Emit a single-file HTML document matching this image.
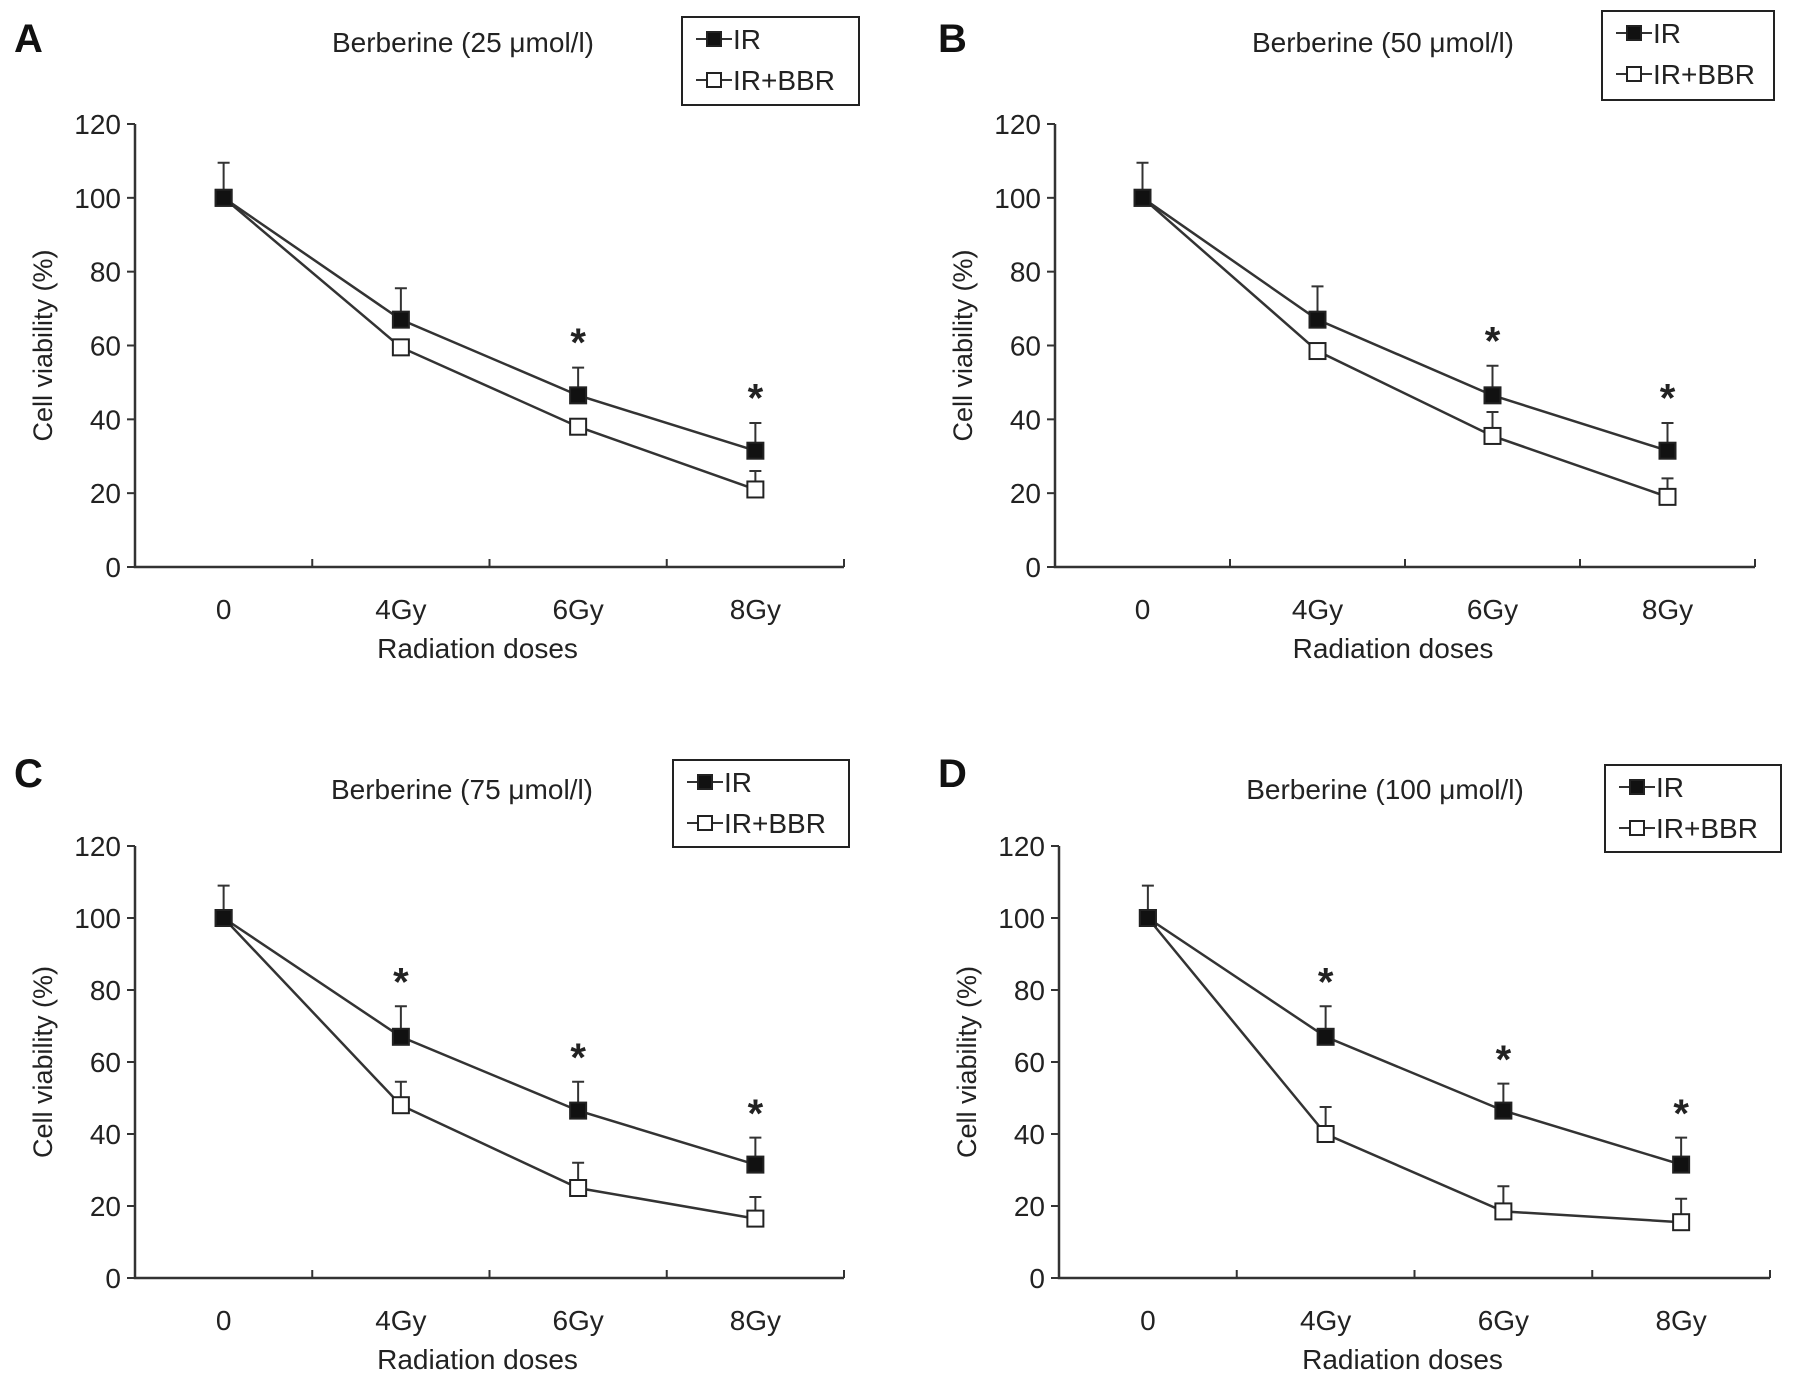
<!DOCTYPE html>
<html><head><meta charset="utf-8"><style>
html,body{margin:0;padding:0;background:#fff;}
svg{display:block;font-family:"Liberation Sans",Arial,sans-serif;}
</style></head><body>
<svg id="fig" width="1795" height="1385" viewBox="0 0 1795 1385" xmlns="http://www.w3.org/2000/svg"></svg>
<script>
const categories = ["0","4Gy","6Gy","8Gy"];
const yTicks = [0,20,40,60,80,100,120];
const panelLetters = ["A","B","C","D"];
const panelTitles = ["Berberine (25  μmol/l)","Berberine (50  μmol/l)","Berberine (75  μmol/l)","Berberine (100 μmol/l)"];
const irA = [100,67,46.5,31.5];
const irErrA = [9.5,8.5,7.5,7.5];
const bbrA = [100,59.5,38,21];
const bbrErrA = [0,0,0,5];
const starsA = [false,false,true,true];
const irB = [100,67,46.5,31.5];
const irErrB = [9.5,9,8,7.5];
const bbrB = [100,58.5,35.5,19];
const bbrErrB = [0,0,6.5,5];
const starsB = [false,false,true,true];
const irC = [100,67,46.5,31.5];
const irErrC = [9,8.5,8,7.5];
const bbrC = [100,48,25,16.5];
const bbrErrC = [0,6.5,7,6];
const starsC = [false,true,true,true];
const irD = [100,67,46.5,31.5];
const irErrD = [9,8.5,7.5,7.5];
const bbrD = [100,40,18.5,15.5];
const bbrErrD = [0,7.5,7,6.5];
const starsD = [false,true,true,true];

const svg = document.getElementById('fig');
const NS = "http://www.w3.org/2000/svg";
function mk(tag, attrs, parent){const e=document.createElementNS(NS,tag);for(const k in attrs)e.setAttribute(k,attrs[k]);(parent||svg).appendChild(e);return e;}

const layouts = [
 {x0:135,x1:844,yTop:124,yBot:567,title:[463,42],leg:[682,17,177,88],letter:[14,52]},
 {x0:1055,x1:1755,yTop:124,yBot:567,title:[1383,42],leg:[1602,11,172,89],letter:[938,52]},
 {x0:135,x1:844,yTop:846,yBot:1278,title:[462,789],leg:[673,760,176,87],letter:[14,787]},
 {x0:1059,x1:1770,yTop:846,yBot:1278,title:[1385,789],leg:[1605,765,176,87],letter:[938,787]}
];
const data = [
 [irA,irErrA,bbrA,bbrErrA,starsA],
 [irB,irErrB,bbrB,bbrErrB,starsB],
 [irC,irErrC,bbrC,bbrErrC,starsC],
 [irD,irErrD,bbrD,bbrErrD,starsD]
];

layouts.forEach((L,p)=>{
  const g = mk('g',{});
  
  
  const band=(L.x1-L.x0)/categories.length;
  const xs=i=>L.x0+band*(i+0.5);
  const ys=v=>L.yBot-(v/120)*(L.yBot-L.yTop);
  const t=(txt,x,y,size,anchor,name,extra)=>{const e=mk('text',Object.assign({x:x,y:y,'font-size':size,'text-anchor':anchor||'middle',fill:'#222'},extra||{}),g);e.textContent=txt;return e;};
  t(panelLetters[p],L.letter[0],L.letter[1],40,'start','panel-letter',{'font-weight':'bold',fill:'#111'});
  t(panelTitles[p],L.title[0],L.title[1]+10,28,'middle','chart-title');
  const ax=mk('path',{d:`M${L.x0},${L.yTop} V${L.yBot} H${L.x1}`,fill:'none',stroke:'#333','stroke-width':2.5},g);
  
  yTicks.forEach(v=>{
    const tk=mk('line',{x1:L.x0-8,x2:L.x0,y1:ys(v),y2:ys(v),stroke:'#333','stroke-width':2},g);
    
    t(String(v),L.x0-14,ys(v)+10,28,'end','y-tick-label');
  });
  for(let i=1;i<=categories.length;i++){
    const x=L.x0+band*i;
    const tk=mk('line',{x1:x,x2:x,y1:L.yBot-8,y2:L.yBot,stroke:'#333','stroke-width':2},g);
    
  }
  categories.forEach((c,i)=>t(c,xs(i),L.yBot+52,28,'middle','x-tick-label'));
  t('Radiation doses',(L.x0+L.x1)/2-12,L.yBot+91,28,'middle','x-axis-title');
  const yc=(L.yTop+L.yBot)/2;
  t('Cell viability (%)',L.x0-83,yc,27,'middle','y-axis-title',{transform:`rotate(-90 ${L.x0-83} ${yc})`});
  const [ir,irE,bb,bbE,st]=data[p];
  const series=[[bb,bbE,'#fff','ir-bbr'],[ir,irE,'#111','ir']];
  series.forEach(([vals,errs,fill,nm])=>{
    errs.forEach((e,i)=>{if(e>0){
      const eb=mk('path',{d:`M${xs(i)},${ys(vals[i])} V${ys(vals[i]+e)} M${xs(i)-6},${ys(vals[i]+e)} H${xs(i)+6}`,stroke:'#333','stroke-width':2,fill:'none'},g);
      }});
    const ln=mk('polyline',{points:vals.map((v,i)=>xs(i)+','+ys(v)).join(' '),fill:'none',stroke:'#333','stroke-width':2.5},g);
    
  });
  series.forEach(([vals,errs,fill,nm])=>{
    vals.forEach((v,i)=>{
      const m=mk('rect',{x:xs(i)-8,y:ys(v)-8,width:16,height:16,fill:fill,stroke:'#222','stroke-width':2},g);
      
    });
  });
  st.forEach((s,i)=>{if(s){t('*',xs(i),ys(ir[i]+irE[i]+8)+18,40,'middle','significance-star',{'font-weight':'bold'});}});
  const [lx,ly,lw,lh]=L.leg;
  const lb=mk('rect',{x:lx,y:ly,width:lw,height:lh,fill:'#fff',stroke:'#222','stroke-width':2},g);
  
  [['IR','#111'],['IR+BBR','#fff']].forEach(([lab,f],k)=>{
    const yy=ly+22+k*41;
    const l=mk('line',{x1:lx+14,x2:lx+50,y1:yy,y2:yy,stroke:'#333','stroke-width':2},g);
    
    const r=mk('rect',{x:lx+25,y:yy-7,width:14,height:14,fill:f,stroke:'#222','stroke-width':2},g);
    
    t(lab,lx+51,yy+10,28,'start','legend-entry');
  });
});
</script>
</body></html>
